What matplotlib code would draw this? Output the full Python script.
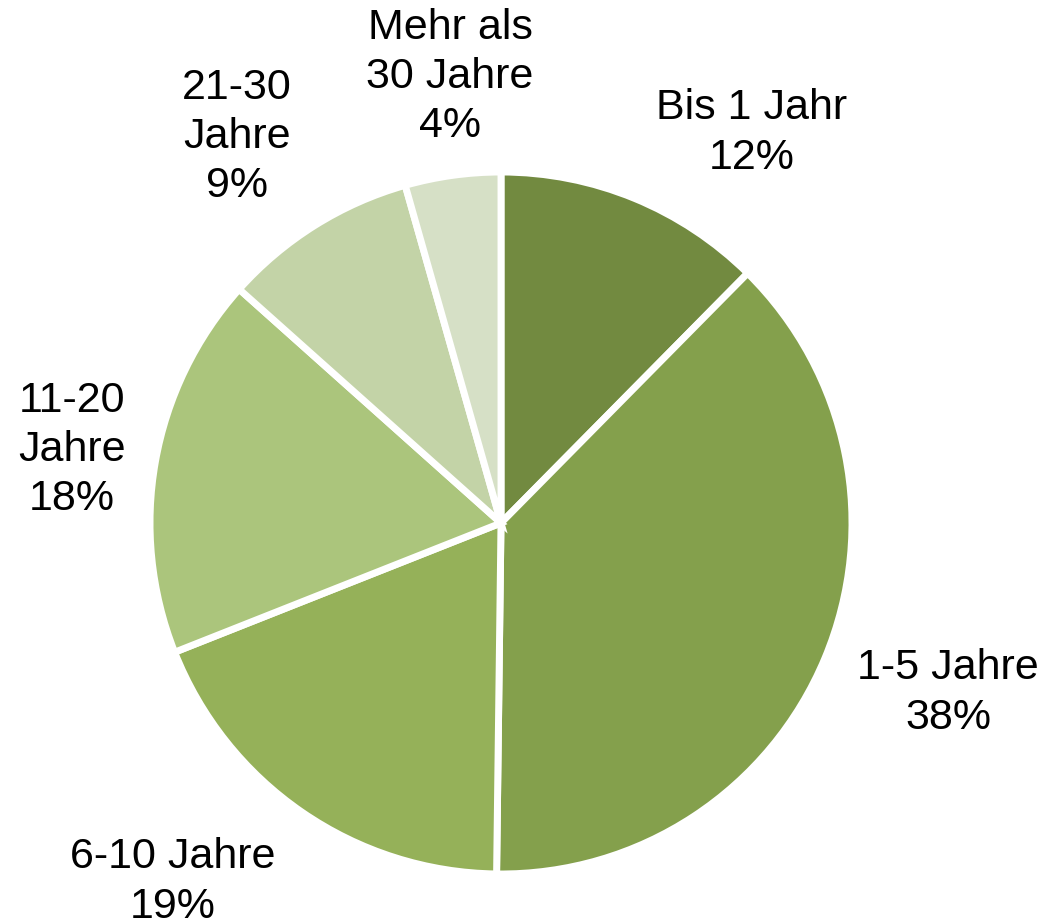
import matplotlib
matplotlib.use("Agg")
import matplotlib.pyplot as plt

categories = ["Bis 1 Jahr", "1-5 Jahre", "6-10 Jahre", "11-20\nJahre", "21-30\nJahre", "Mehr als\n30 Jahre"]
values = [12.4, 37.8, 18.8, 17.6, 9.0, 4.4]          # slice shares
pct_labels = ["12%", "38%", "19%", "18%", "9%", "4%"]  # printed labels
colors = ["#728a40", "#84a04c", "#95b159", "#abc57c", "#c3d3a7", "#d6e0c6"]

plt.rcParams['font.family'] = ['Liberation Sans', 'DejaVu Sans']

W, H = 1042, 924
fig = plt.figure(figsize=(W / 100, H / 100), dpi=100)
cx, cy, r = 501, 523, 351
ax = fig.add_axes([(cx - r) / W, (H - cy - r) / H, 2 * r / W, 2 * r / H])
ax.pie(values, colors=colors, startangle=90, counterclock=False, radius=1,
       wedgeprops=dict(edgecolor="white", linewidth=5))
ax.set_xlim(-1, 1)
ax.set_ylim(-1, 1)
ax.set_aspect("equal")
ax.axis("off")

# label centre positions (pixels)
label_px = [(752, 133), (948, 693), (173, 882), (72, 450), (237, 137), (450, 77)]
for cat, lab, (px, py) in zip(categories, pct_labels, label_px):
    x = (px - cx) / r
    y = (cy - py) / r
    ax.text(x, y, f"{cat}\n{lab}", ha="center", va="center", fontsize=31,
            linespacing=1.3, clip_on=False, color="black")

fig.savefig("out.png", dpi=100)
